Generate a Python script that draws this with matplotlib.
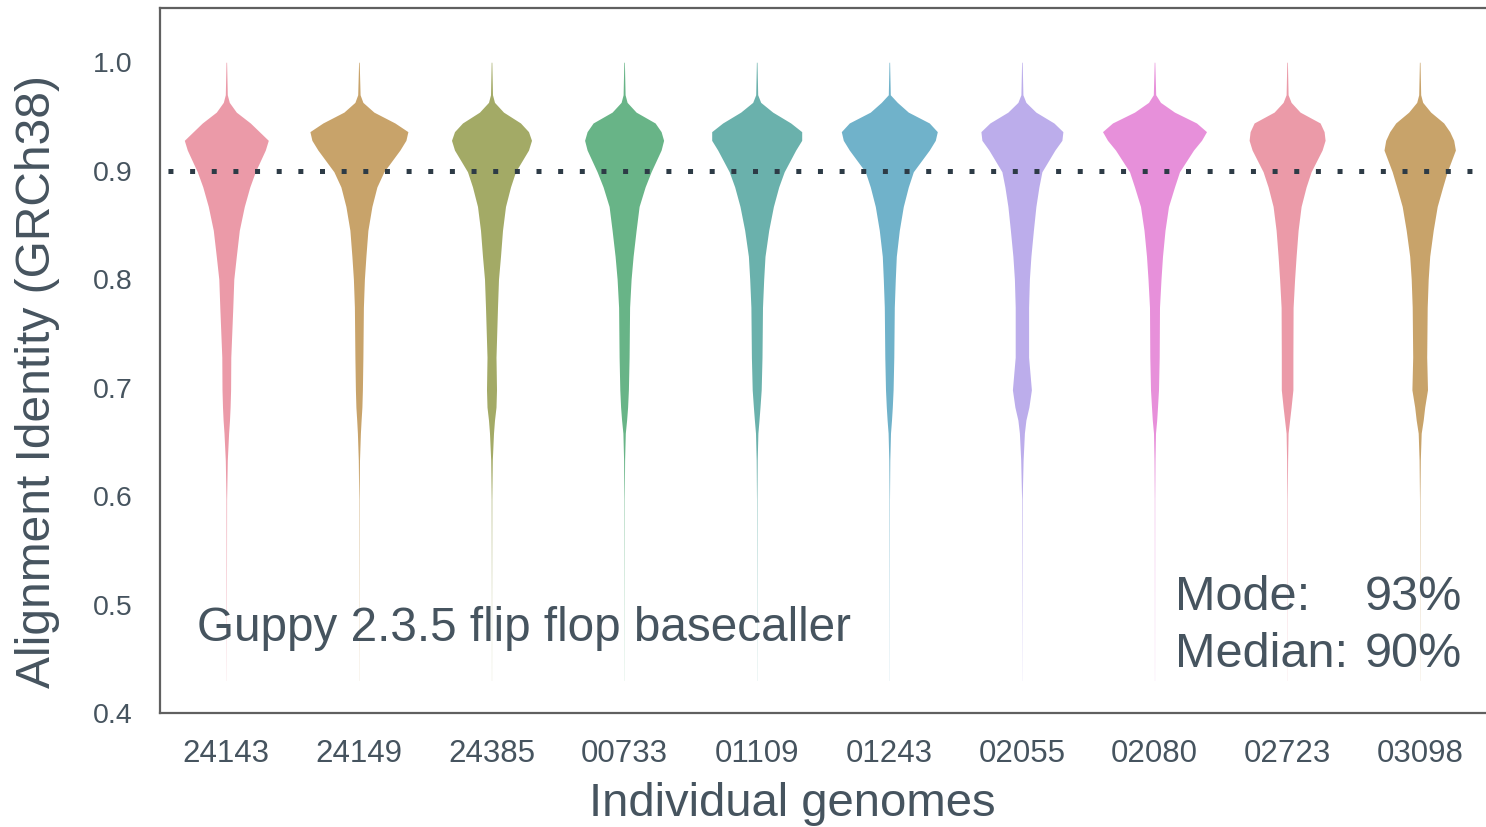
import numpy as np
import matplotlib
matplotlib.use('Agg')
import matplotlib.pyplot as plt
import seaborn as sns

# --- data ---
genomes = ["24143", "24149", "24385", "00733", "01109",
           "01243", "02055", "02080", "02723", "03098"]

# identity levels where the violin half-widths were read
y_levels = [1.00, 0.97, 0.963, 0.954, 0.944, 0.936, 0.928, 0.919, 0.899, 0.885, 0.867,
            0.845, 0.821, 0.80, 0.774, 0.728, 0.698, 0.682, 0.670, 0.658, 0.633, 0.597, 0.50, 0.43]

# relative density (half-width) per genome at each level
dens_24143 = [0.3, 1.0, 3, 10, 24, 33, 42, 39, 29, 23.5, 18, 13, 10, 7.5, 6.5, 4.5, 4.3, 3.8, 3.2, 2.3, 1.0, 0.3, 0.15, 0.05]
dens_24149 = [0.3, 1.2, 4, 15, 36, 49, 47, 41, 25, 18, 13, 9, 7, 5.5, 4.5, 4.0, 3.5, 3.0, 2.2, 1.5, 0.6, 0.2, 0.1, 0.05]
dens_24385 = [0.3, 1.0, 3, 12, 29, 37, 40, 37, 24, 19, 14, 11, 9, 7, 6.0, 4.5, 5.0, 4.5, 3.0, 2.0, 0.8, 0.3, 0.1, 0.05]
dens_00733 = [0.3, 1.0, 3, 12, 31, 37, 39.5, 37, 27, 21, 15, 12, 9, 7, 5.5, 5.0, 4.3, 3.5, 2.5, 1.2, 0.5, 0.2, 0.1, 0.05]
dens_01109 = [0.3, 1.0, 4, 16, 34, 45, 45, 39, 27.5, 22, 16.7, 12, 8.3, 7, 5.8, 5.3, 4.5, 3.3, 2.3, 1.2, 0.5, 0.2, 0.1, 0.05]
dens_01243 = [0.3, 1.0, 8, 19, 40, 48, 46, 40, 24, 19, 14, 10, 7, 6, 5.0, 4.5, 3.8, 3.0, 2.2, 1.2, 0.5, 0.2, 0.1, 0.05]
dens_02055 = [0.3, 1.0, 4, 14, 32, 41, 40, 33, 20, 17, 14, 11.5, 9, 7.5, 6.7, 6.7, 9.5, 7.0, 4.0, 2.5, 1.2, 0.3, 0.15, 0.05]
dens_02080 = [0.3, 1.2, 6, 20, 42, 52, 47, 39, 25, 20, 14, 10.5, 8, 6.5, 5.0, 4.7, 4.0, 3.0, 2.2, 1.0, 0.5, 0.2, 0.1, 0.05]
dens_02723 = [0.3, 1.0, 4, 13, 33, 37, 38, 35, 24, 19, 14, 11, 9, 7.5, 6.0, 5.8, 5.8, 4.0, 2.5, 1.0, 0.5, 0.2, 0.1, 0.05]
dens_03098 = [0.3, 1.0, 3, 11, 24, 30, 34, 35.7, 27.5, 23, 17.5, 13.5, 10, 8.5, 7.5, 7.0, 7.8, 5.0, 3.5, 1.5, 0.6, 0.2, 0.1, 0.05]

densities = [dens_24143, dens_24149, dens_24385, dens_00733, dens_01109,
             dens_01243, dens_02055, dens_02080, dens_02723, dens_03098]

median_line = 0.90
mode_txt = "93%"
median_txt = "90%"

# --- style ---
plt.rcParams['font.family'] = ['Liberation Sans', 'DejaVu Sans']
txt_col = '#46545f'
pal = sns.color_palette("husl", 8, desat=0.75)
width_scale = 1 / 132.6   # density units -> category units

fig = plt.figure(figsize=(14.86, 8.27), dpi=100)
ax = fig.add_axes([160 / 1486, 1 - 713 / 827, 1 - 160 / 1486, 705 / 827])

yl = np.array(y_levels)
for i, d in enumerate(densities):
    w = np.array(d) * width_scale
    ax.fill_betweenx(yl, i - w, i + w, color=pal[i % 8], alpha=0.8, linewidth=0)

ax.axhline(median_line, color='#2d3b46', lw=3.6, linestyle=(2.74, (1, 3.33)),
           dash_capstyle='butt', zorder=3)

ax.set_xlim(-0.5, 9.5)
ax.set_ylim(0.4, 1.05)
ax.set_xticks(range(len(genomes)))
ax.set_xticklabels(genomes)
ax.set_yticks([0.4, 0.5, 0.6, 0.7, 0.8, 0.9, 1.0])
ax.set_yticklabels(["0.4", "0.5", "0.6", "0.7", "0.8", "0.9", "1.0"])
ax.tick_params(axis='x', length=0, pad=19, labelsize=22.5, labelcolor=txt_col)
ax.tick_params(axis='y', length=0, pad=20, labelsize=20.5, labelcolor=txt_col)

for s in ['left', 'bottom', 'top']:
    ax.spines[s].set_color('#606060')
    ax.spines[s].set_linewidth(1.6)
ax.spines['right'].set_visible(False)

ax.set_xlabel("Individual genomes", fontsize=34, color=txt_col)
ax.xaxis.set_label_coords(0.477, -0.098)
ax.set_ylabel("Alignment Identity (GRCh38)", fontsize=34.5, color=txt_col)
ax.yaxis.set_label_coords(-0.0754, 0.47)

ax.text(0.0279, 0.102, "Guppy 2.3.5 flip flop basecaller", transform=ax.transAxes,
        fontsize=34.3, color=txt_col, va='baseline', ha='left')
ax.text(0.7655, 0.146, "Mode:", transform=ax.transAxes, fontsize=35,
        color=txt_col, va='baseline', ha='left')
ax.text(0.9087, 0.146, mode_txt, transform=ax.transAxes, fontsize=35,
        color=txt_col, va='baseline', ha='left')
ax.text(0.7655, 0.0652, "Median:", transform=ax.transAxes, fontsize=35,
        color=txt_col, va='baseline', ha='left')
ax.text(0.9087, 0.0652, median_txt, transform=ax.transAxes, fontsize=35,
        color=txt_col, va='baseline', ha='left')

fig.savefig('out.png', dpi=100, facecolor='white')
